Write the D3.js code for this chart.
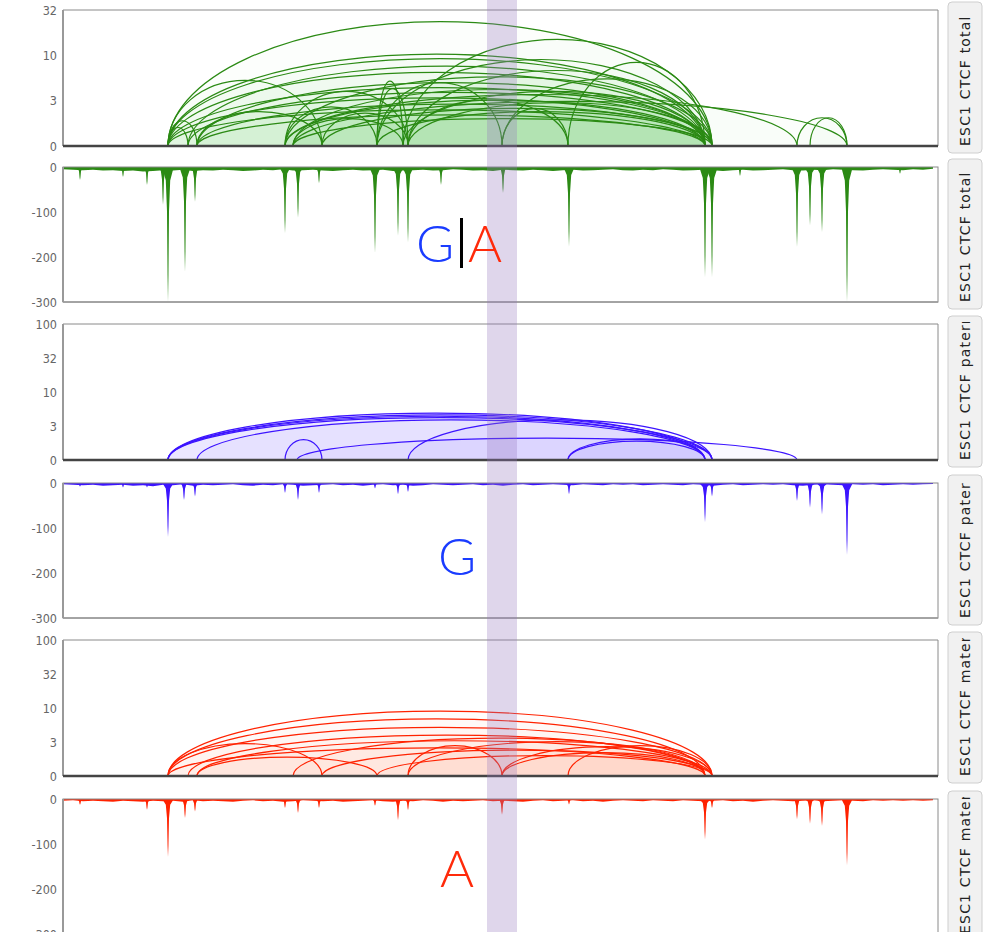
<!DOCTYPE html>
<html>
<head>
<meta charset="utf-8">
<script src="https://cdn.jsdelivr.net/npm/d3@7"></script>
<style>
  body { margin: 0; background: #fff; }
</style>
</head>
<body>
<svg id="chart" width="985" height="932"></svg>
<script>
// region shown, in kb from window start
const xDomain = [0, 875];
const snpPos = 439;
const snpHalfWidth = 15;

// arc tracks: [start kb, end kb, contact strength]
const totalArcs = [
  [105, 649, 23.5], [340, 649, 15], [105, 642, 10.3], [105, 649, 9.2], [314, 642, 9.0],
  [505, 642, 8.4], [125, 642, 7.6], [105, 642, 6.5], [345, 642, 6.8], [222, 649, 5.8],
  [439, 649, 5.5], [105, 259, 5.3], [314, 340, 5.2], [134, 642, 5.0], [314, 439, 5.0],
  [105, 649, 4.4], [230, 642, 4.2], [314, 345, 4.3], [222, 345, 4.0], [340, 642, 4.0],
  [125, 649, 3.9], [222, 734, 3.7], [105, 642, 3.4], [222, 642, 3.2], [222, 314, 2.7],
  [230, 784, 3.1], [345, 505, 3.2], [134, 649, 2.9], [259, 649, 2.6], [105, 642, 2.5],
  [314, 642, 2.4], [134, 259, 2.4], [134, 642, 2.2], [230, 649, 2.0], [230, 340, 2.0],
  [105, 125, 1.6], [105, 134, 1.9], [734, 784, 2.05], [747, 784, 2.05], [345, 649, 3.0],
  [259, 345, 2.3], [439, 505, 2.6]
];
const paterArcs = [
  [105, 642, 4.9], [105, 649, 4.6], [105, 642, 4.4], [105, 649, 4.2], [134, 642, 3.9],
  [345, 649, 3.9], [222, 259, 2.0], [234, 734, 2.1], [505, 642, 1.9], [505, 649, 2.05]
];
const mateArcs = [
  [105, 649, 9.0], [105, 642, 6.9], [105, 649, 5.2], [125, 642, 4.0], [134, 649, 3.3],
  [105, 642, 2.6], [105, 259, 3.0], [134, 314, 1.9], [230, 642, 3.6], [259, 649, 2.4],
  [345, 439, 2.8], [439, 649, 2.7], [439, 642, 2.2], [505, 649, 2.8], [345, 642, 3.2],
  [314, 649, 2.0]
];

// signal tracks: background coverage in 10 kb bins, plus peaks [kb, depth]
const binStep = 10;
const totalBase = [
  -5, -6, -7, -6, -8, -7, -9, -8, -10, -9,
  -7, -8, -6, -9, -7, -8, -6, -7, -9, -8,
  -6, -7, -5, -8, -7, -6, -8, -9, -7, -6,
  -8, -7, -6, -9, -8, -7, -6, -8, -7, -5,
  -6, -8, -7, -9, -6, -7, -8, -6, -7, -9,
  -7, -6, -8, -7, -6, -5, -7, -8, -6, -7,
  -5, -6, -8, -7, -6, -7, -9, -7, -6, -8,
  -7, -6, -5, -7, -8, -6, -7, -5, -6, -7,
  -8, -6, -5, -6, -7, -5, -6, -4
];
const paterBase = [
  -3, -4, -5, -4, -6, -5, -4, -6, -5, -7,
  -4, -5, -3, -6, -4, -5, -4, -3, -5, -6,
  -4, -5, -3, -4, -6, -5, -4, -3, -5, -4,
  -6, -4, -3, -5, -4, -6, -5, -3, -4, -5,
  -4, -3, -5, -4, -6, -4, -3, -5, -4, -3,
  -4, -5, -3, -4, -5, -3, -4, -3, -5, -4,
  -3, -4, -5, -3, -4, -6, -4, -3, -5, -4,
  -3, -4, -3, -5, -6, -4, -3, -4, -5, -3,
  -4, -3, -5, -4, -3, -4, -3, -2
];
const mateBase = [
  -4, -3, -5, -4, -5, -6, -4, -5, -6, -4,
  -5, -4, -6, -3, -5, -4, -5, -6, -4, -3,
  -5, -4, -6, -5, -3, -4, -5, -4, -6, -5,
  -4, -3, -5, -6, -4, -5, -3, -4, -6, -4,
  -5, -4, -3, -5, -4, -5, -6, -4, -3, -5,
  -4, -3, -5, -4, -6, -4, -3, -4, -5, -3,
  -4, -5, -3, -4, -5, -4, -3, -5, -4, -6,
  -4, -3, -4, -5, -4, -3, -5, -4, -3, -4,
  -5, -3, -4, -3, -4, -3, -4, -3
];
const totalPeaks = [
  [17, 29], [60, 22], [84, 40], [100, 84], [105, 300], [122, 233], [132, 77],
  [222, 147], [235, 113], [256, 36], [312, 191], [335, 153], [345, 168], [378, 40],
  [440, 58], [506, 177], [642, 245], [649, 245], [677, 20], [734, 178], [747, 130],
  [759, 145], [784, 300], [837, 15]
];
const paterPeaks = [
  [17, 8], [60, 10], [84, 10], [105, 120], [121, 38], [132, 30], [222, 22], [235, 38],
  [256, 22], [312, 12], [335, 25], [345, 20], [506, 25], [642, 87], [649, 30],
  [734, 40], [747, 55], [759, 70], [784, 160]
];
const matePeaks = [
  [17, 13], [84, 24], [105, 129], [122, 42], [132, 28], [222, 20], [235, 31], [256, 20],
  [312, 15], [335, 47], [345, 25], [439, 35], [506, 12], [642, 90], [649, 20],
  [734, 45], [747, 55], [759, 60], [784, 148]
];

// axis ticks
const arcTicks32 = [1, 3.162, 10, 31.62];
const arcTicks100 = [1, 3.162, 10, 31.62, 100];
const arcTickLabels = ["0", "3", "10", "32", "100"];
const sigTicks = [0, -100, -200, -300];

const stripLabels = [
  "ESC1 CTCF total", "ESC1 CTCF total",
  "ESC1 CTCF paternal", "ESC1 CTCF paternal",
  "ESC1 CTCF maternal", "ESC1 CTCF maternal"
];

const green = "#2b8a14", blue = "#3c14ff", red = "#ff2200";

const panels = [
  { kind: "arc", top: 10,  bottom: 146, arcs: totalArcs, ymax: 31.62, ticks: arcTicks32, color: green, fill: "#2ca82c", fillOp: 0.017 },
  { kind: "sig", top: 167, bottom: 302, base: totalBase, peaks: totalPeaks, color: green },
  { kind: "arc", top: 324, bottom: 460, arcs: paterArcs, ymax: 100, ticks: arcTicks100, color: blue, fill: blue, fillOp: 0.022 },
  { kind: "sig", top: 483, bottom: 618, base: paterBase, peaks: paterPeaks, color: blue },
  { kind: "arc", top: 640, bottom: 776, arcs: mateArcs, ymax: 100, ticks: arcTicks100, color: red, fill: red, fillOp: 0.015 },
  { kind: "sig", top: 799, bottom: 934, base: mateBase, peaks: matePeaks, color: red }
];

const left = 63, right = 938;
const x = d3.scaleLinear().domain(xDomain).range([left, right]);
const svg = d3.select("#chart");
const defs = svg.append("defs");
const tickFont = "'Liberation Sans Narrow','DejaVu Sans Condensed',sans-serif";

// pixel profile of a peak: [dx, fraction of depth]
const spikeShape = [[-5, 0.02], [-2.2, 0.1], [-1, 0.33], [-0.45, 0.8], [0, 1], [0.45, 0.8], [1, 0.33], [2.2, 0.1], [5, 0.02]];

panels.forEach((p, i) => {
  const g = svg.append("g");
  defs.append("clipPath").attr("id", "clip" + i)
    .append("rect").attr("x", left).attr("y", p.top - 1).attr("width", right - left).attr("height", p.bottom - p.top + 1);

  let y;
  if (p.kind === "arc") {
    y = d3.scaleLog().domain([1, p.ymax]).range([p.bottom, p.top]);
    const arcG = g.append("g").attr("clip-path", `url(#clip${i})`);
    arcG.selectAll("path").data(p.arcs).join("path")
      .attr("d", d => {
        const x1 = x(d[0]), x2 = x(d[1]);
        const rx = (x2 - x1) / 2, ry = p.bottom - y(d[2]);
        return `M${x1},${p.bottom}A${rx},${ry} 0 0,1 ${x2},${p.bottom}Z`;
      })
      .attr("fill", p.fill)
      .attr("fill-opacity", p.fillOp)
      .attr("stroke", p.color)
      .attr("stroke-width", 1.2);

    // frame
    g.append("path").attr("d", `M${left},${p.bottom}V${p.top}H${right}V${p.bottom}`)
      .attr("fill", "none").attr("stroke", "#8a8a8a").attr("stroke-width", 1);
    g.append("line").attr("x1", left).attr("x2", left).attr("y1", p.top).attr("y2", p.bottom)
      .attr("stroke", "#999").attr("stroke-width", 2);
    g.append("line").attr("x1", left).attr("x2", right).attr("y1", p.bottom).attr("y2", p.bottom)
      .attr("stroke", "#444").attr("stroke-width", 2.5);

    const ax = g.append("g").attr("transform", `translate(${left},0)`)
      .call(d3.axisLeft(y).tickValues(p.ticks).tickSize(0).tickPadding(6)
        .tickFormat((d, k) => arcTickLabels[k]));
    ax.select(".domain").remove();
    ax.selectAll("text").attr("fill", "#666").attr("font-family", tickFont).attr("font-size", 12.5);
  } else {
    y = d3.scaleLinear().domain([-300, 0]).range([p.bottom, p.top]);
    const sigG = g.append("g").attr("clip-path", `url(#clip${i})`);
    const pts = p.base.map((v, k) => [k * binStep, v]);
    const area = d3.area().x(d => x(d[0])).y0(y(0)).y1(d => y(d[1]));
    sigG.append("path").datum(pts).attr("d", area).attr("fill", p.color);

    const spikeArea = d3.area().x(d => d[0]).y0(y(0)).y1(d => d[1]);
    sigG.selectAll(".spike").data(p.peaks).join("path").attr("class", "spike")
      .attr("d", d => spikeArea(spikeShape.map(s => [x(d[0]) + s[0], y(-d[1] * s[1])])))
      .attr("fill", p.color);

    g.append("rect").attr("x", left).attr("y", p.top).attr("width", right - left).attr("height", p.bottom - p.top)
      .attr("fill", "none").attr("stroke", "#8a8a8a").attr("stroke-width", 1);
    g.append("line").attr("x1", left).attr("x2", left).attr("y1", p.top).attr("y2", p.bottom)
      .attr("stroke", "#999").attr("stroke-width", 2);
    g.append("line").attr("x1", left).attr("x2", right).attr("y1", p.bottom).attr("y2", p.bottom)
      .attr("stroke", "#999").attr("stroke-width", 1.5);

    const ax = g.append("g").attr("transform", `translate(${left},0)`)
      .call(d3.axisLeft(y).tickValues(sigTicks).tickSize(0).tickPadding(6).tickFormat(d => String(d)));
    ax.select(".domain").remove();
    ax.selectAll("text").attr("fill", "#666").attr("font-family", tickFont).attr("font-size", 12.5);
  }

  // facet strip on the right
  const sTop = p.top - 8, sBot = p.bottom + 7;
  defs.append("clipPath").attr("id", "sclip" + i)
    .append("rect").attr("x", 948).attr("y", sTop + 6).attr("width", 34).attr("height", sBot - sTop - 6);
  svg.append("rect").attr("x", 948).attr("y", sTop).attr("width", 34).attr("height", sBot - sTop)
    .attr("rx", 4).attr("fill", "#f1f1f1").attr("stroke", "#cfcfcf");
  svg.append("g").attr("clip-path", `url(#sclip${i})`)
    .append("text")
    .attr("transform", `translate(969.5,${p.bottom}) rotate(-90)`)
    .attr("font-family", "Verdana,'DejaVu Sans',sans-serif").attr("font-size", 14)
    .attr("font-weight", 500)
    .attr("letter-spacing", 1.2)
    .attr("fill", "#222")
    .text(stripLabels[i]);
});

// highlighted SNP
svg.append("rect")
  .attr("x", x(snpPos - snpHalfWidth)).attr("width", x(snpPos + snpHalfWidth) - x(snpPos - snpHalfWidth))
  .attr("y", 0).attr("height", 932)
  .attr("fill", "rgb(150,120,190)").attr("opacity", 0.3);

// allele annotations
const bigFont = "Lato, Roboto, 'Liberation Sans', sans-serif";
function big(txt, px, py, color) {
  svg.append("text").attr("x", px).attr("y", py).attr("text-anchor", "middle")
    .attr("font-family", bigFont).attr("font-weight", 300).attr("font-size", 52)
    .attr("fill", color).text(txt);
}
big("G", 435, 262, "#1a3cff");
svg.append("line").attr("x1", 461.5).attr("x2", 461.5).attr("y1", 218).attr("y2", 268)
  .attr("stroke", "#000").attr("stroke-width", 3);
big("A", 485, 262, "#ff2a0a");
big("G", 457, 575, "#1a3cff");
big("A", 457, 887, "#ff2a0a");
</script>
</body>
</html>
